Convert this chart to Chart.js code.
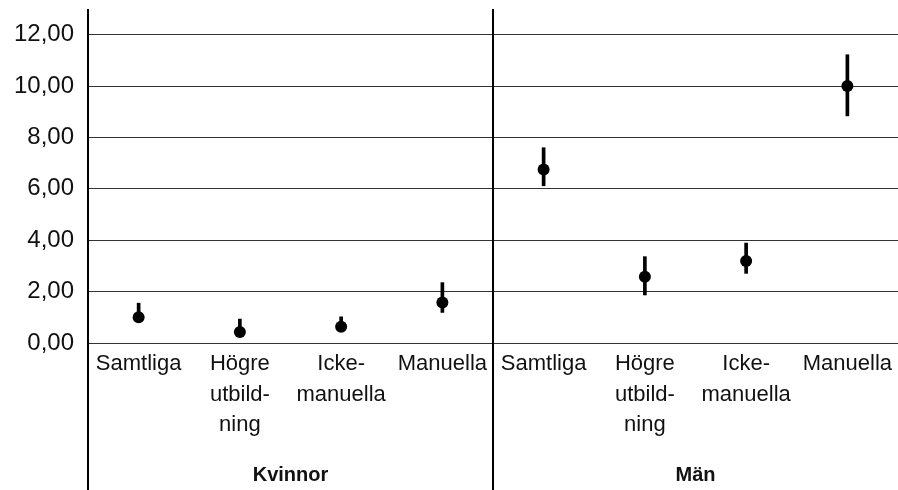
<!DOCTYPE html>
<html>
<head>
<meta charset="utf-8">
<script src="https://cdn.jsdelivr.net/npm/chart.js@4.4.1/dist/chart.umd.min.js"></script>
<style>
  html, body { margin: 0; padding: 0; background: #fff; }
</style>
</head>
<body>
<canvas id="chart" width="898" height="490"></canvas>
<script>
// categories (one row per group)
const categories = [
  ['Samtliga'], ['Högre', 'utbild-', 'ning'], ['Icke-', 'manuella'], ['Manuella'],
  ['Samtliga'], ['Högre', 'utbild-', 'ning'], ['Icke-', 'manuella'], ['Manuella']
];
const groups = ['Kvinnor', 'Män'];

// point estimates and confidence interval ends
const estimates = [1.00, 0.43, 0.63, 1.58, 6.75, 2.58, 3.19, 10.00];
const lower     = [0.82, 0.30, 0.46, 1.19, 6.12, 1.87, 2.71, 8.84];
const upper     = [1.55, 0.93, 1.02, 2.35, 7.60, 3.36, 3.89, 11.22];

// y axis
const yMax = 13;
const yTicks = [0, 2, 4, 6, 8, 10, 12];

const FONT = "'Liberation Sans', Arial, sans-serif";

// vertical frame lines: the y axis and the group separator, running down through the labels
const frameLines = {
  id: 'frameLines',
  afterDraw(chart) {
    const { ctx, chartArea, scales } = chart;
    const sep = scales.x.getPixelForValue(categories.length / 2 - 0.5);
    ctx.save();
    ctx.strokeStyle = '#000';
    ctx.lineWidth = 2;
    [chartArea.left, sep].forEach(px => {
      ctx.beginPath();
      ctx.moveTo(px, chartArea.top);
      ctx.lineTo(px, chart.height);
      ctx.stroke();
    });
    ctx.restore();
  }
};

const noPad = scale => {
  scale.paddingLeft = 0;
  scale.paddingRight = 0;
  scale.paddingTop = 0;
  scale.paddingBottom = 0;
};

new Chart(document.getElementById('chart'), {
  type: 'bar',
  data: {
    labels: categories,
    datasets: [
      {
        type: 'line',
        label: 'Skattning',
        data: estimates,
        showLine: false,
        pointRadius: 6,
        pointBackgroundColor: '#000',
        pointBorderColor: '#000',
        pointBorderWidth: 0,
        clip: false,
        order: 0
      },
      {
        label: 'Konfidensintervall',
        data: lower.map((lo, i) => [lo, upper[i]]),
        backgroundColor: '#000',
        borderWidth: 0,
        barThickness: 3,
        order: 1
      }
    ]
  },
  options: {
    responsive: false,
    animation: false,
    layout: { autoPadding: false, padding: { top: 9, right: 0, bottom: 0, left: 0 } },
    plugins: {
      legend: { display: false },
      tooltip: { enabled: false }
    },
    scales: {
      y: {
        min: 0,
        max: yMax,
        afterBuildTicks(scale) {
          scale.ticks = yTicks.map(v => ({ value: v }));
        },
        afterFit(scale) { scale.width = 88; noPad(scale); },
        ticks: {
          padding: 14,
          color: '#111',
          font: { family: FONT, size: 24 },
          callback: v => v.toFixed(2).replace('.', ',')
        },
        grid: { color: '#333', lineWidth: 1, drawTicks: false },
        border: { display: false }
      },
      x: {
        offset: true,
        afterFit(scale) { scale.height = 110; noPad(scale); },
        ticks: {
          autoSkip: false,
          maxRotation: 0,
          padding: 6,
          color: '#111',
          font: { family: FONT, size: 22, lineHeight: 1.38 }
        },
        grid: { display: false, drawTicks: false },
        border: { display: false }
      },
      x2: {
        type: 'category',
        position: 'bottom',
        labels: groups,
        offset: true,
        afterFit(scale) { scale.height = 37; noPad(scale); },
        ticks: {
          padding: 10,
          color: '#111',
          font: { family: FONT, size: 20, weight: 'bold' }
        },
        grid: { display: false, drawTicks: false },
        border: { display: false }
      }
    }
  },
  plugins: [frameLines]
});
</script>
</body>
</html>
